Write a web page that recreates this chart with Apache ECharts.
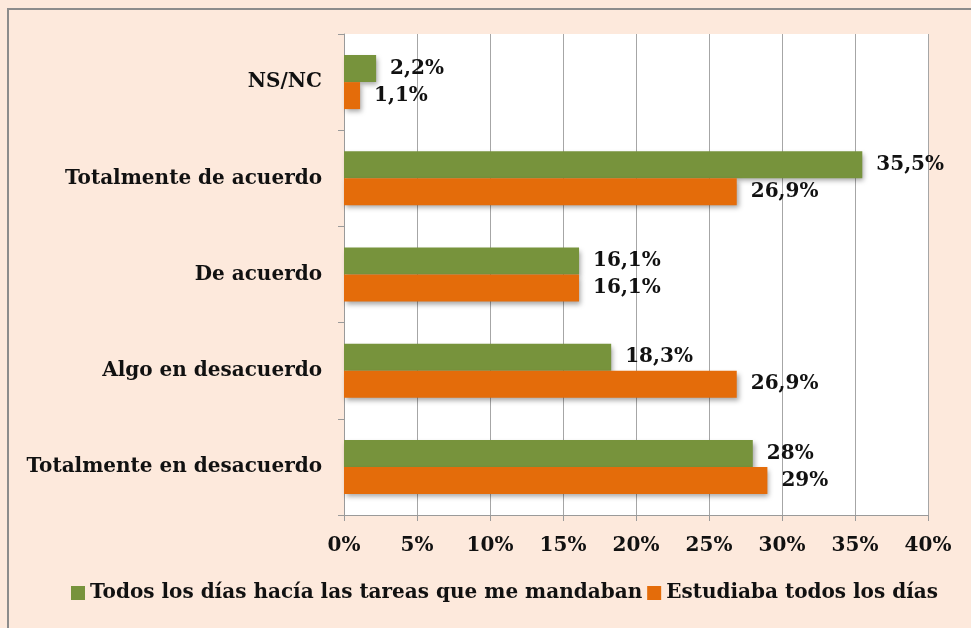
<!DOCTYPE html>
<html>
<head>
<meta charset="utf-8">
<script src="https://cdn.jsdelivr.net/npm/echarts@6/dist/echarts.min.js"></script>
<style>
  html, body { margin: 0; padding: 0; background: #ffffff; }
  #chart { width: 971px; height: 628px; }
</style>
</head>
<body>
<div id="chart"></div>
<script>
  // categories, top to bottom
  var categories = ['NS/NC', 'Totalmente de acuerdo', 'De acuerdo', 'Algo en desacuerdo', 'Totalmente en desacuerdo']
  var tareasValues = [2.2, 35.5, 16.1, 18.3, 28]
  var estudiabaValues = [1.1, 26.9, 16.1, 26.9, 29]
  var seriesNames = ['Todos los días hacía las tareas que me mandaban', 'Estudiaba todos los días']
  var xTicks = [0, 5, 10, 15, 20, 25, 30, 35, 40]

  var font = 'DejaVu Serif'
  var chart = echarts.init(document.getElementById('chart'))

  function fmt(v) {
    return String(v).replace('.', ',') + '%'
  }

  var labelStyle = {
    show: true,
    position: 'right',
    distance: 14,
    color: '#111',
    fontFamily: font,
    fontWeight: 'bold',
    fontSize: 20,
    formatter: function (p) { return fmt(p.value) }
  }

  chart.setOption({
    backgroundColor: '#fde9dc',
    graphic: [{
      type: 'rect',
      shape: { x: 8, y: 9, width: 1000, height: 700 },
      style: { fill: 'none', stroke: '#8c8c8c', lineWidth: 2 },
      silent: true
    }],
    grid: {
      left: 344,
      right: 43,
      top: 34,
      bottom: 113,
      show: true,
      backgroundColor: '#ffffff',
      borderWidth: 0
    },
    legend: {
      bottom: 20,
      left: 66,
      itemWidth: 14,
      itemHeight: 14,
      itemGap: 5,
      icon: 'rect',
      textStyle: { fontFamily: font, fontWeight: 'bold', fontSize: 20, color: '#111' },
      data: seriesNames
    },
    xAxis: {
      type: 'value',
      min: 0,
      max: 40,
      interval: 5,
      axisLine: { show: true, lineStyle: { color: '#9a9a9a' } },
      axisTick: { show: true, length: 6, lineStyle: { color: '#9a9a9a' } },
      splitLine: { show: true, lineStyle: { color: '#a6a6a6' } },
      axisLabel: {
        margin: 21,
        fontFamily: font,
        fontWeight: 'bold',
        fontSize: 20,
        color: '#111',
        formatter: function (v) { return xTicks.indexOf(v) >= 0 ? v + '%' : '' }
      }
    },
    yAxis: {
      type: 'category',
      inverse: true,
      data: categories,
      axisLine: { show: true, lineStyle: { color: '#9a9a9a' } },
      axisTick: { show: true, length: 6, lineStyle: { color: '#9a9a9a' } },
      axisLabel: {
        margin: 22,
        fontFamily: font,
        fontWeight: 'bold',
        fontSize: 20,
        color: '#111'
      }
    },
    series: [{
      name: seriesNames[0],
      type: 'bar',
      data: tareasValues,
      barWidth: 27,
      barGap: '0%',
      itemStyle: {
        color: '#77933c',
        shadowColor: 'rgba(0,0,0,0.35)',
        shadowBlur: 5,
        shadowOffsetX: 2,
        shadowOffsetY: 3
      },
      label: labelStyle
    }, {
      name: seriesNames[1],
      type: 'bar',
      data: estudiabaValues,
      barWidth: 27,
      barGap: '0%',
      itemStyle: {
        color: '#e46c0a',
        shadowColor: 'rgba(0,0,0,0.35)',
        shadowBlur: 5,
        shadowOffsetX: 2,
        shadowOffsetY: 3
      },
      label: labelStyle
    }]
  })
</script>
</body>
</html>
